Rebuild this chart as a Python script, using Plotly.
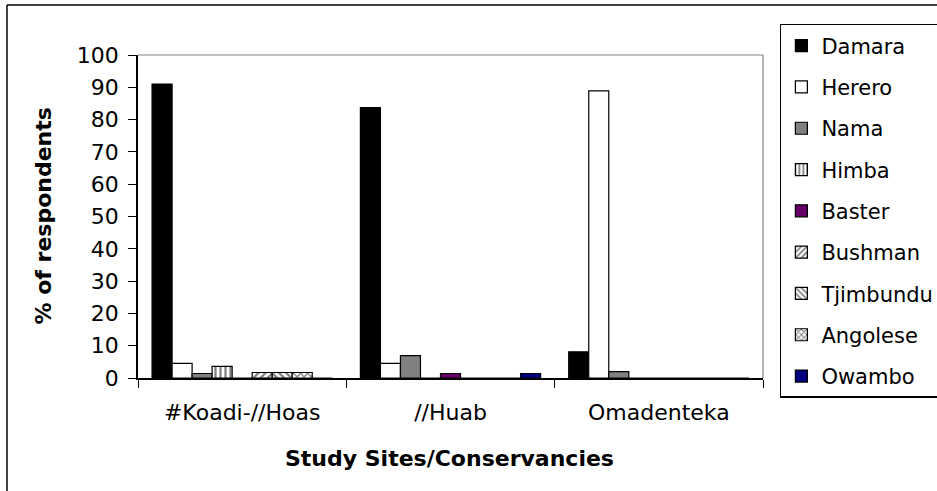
import plotly.graph_objects as go

# Study sites (x categories)
sites = ["#Koadi-//Hoas", "//Huab", "Omadenteka"]

# Ethnic group of respondents, % per site
groups = ["Damara", "Herero", "Nama", "Himba", "Baster",
          "Bushman", "Tjimbundu", "Angolese", "Owambo"]
damara = [91.0, 83.7, 8.1]
herero = [4.5, 4.5, 88.9]
nama = [1.4, 6.9, 2.0]
himba = [3.6, 0, 0]
baster = [0, 1.4, 0]
bushman = [1.7, 0, 0]
tjimbundu = [1.7, 0, 0]
angolese = [1.7, 0, 0]
owambo = [0, 1.4, 0]

y_ticks = list(range(0, 101, 10))

values = [damara, herero, nama, himba, baster, bushman, tjimbundu, angolese, owambo]

# fill colour, pattern shape for each ethnic group
styles = [
    dict(color="#000000", shape=""),
    dict(color="#ffffff", shape=""),
    dict(color="#808080", shape=""),
    dict(color="#ffffff", shape="|"),
    dict(color="#660066", shape=""),
    dict(color="#ffffff", shape="/"),
    dict(color="#ffffff", shape="\\"),
    dict(color="#ffffff", shape="x"),
    dict(color="#000080", shape=""),
]

FONT = "DejaVu Sans"

fig = go.Figure()
for name, vals, st in zip(groups, values, styles):
    marker = dict(color=st["color"], line=dict(color="#000000", width=1.2))
    if st["shape"]:
        marker["pattern"] = dict(shape=st["shape"], fgcolor="#000000",
                                 bgcolor="#ffffff", size=5, solidity=0.45,
                                 fillmode="overlay")
    fig.add_trace(go.Bar(name=name, x=sites, y=vals, marker=marker,
                         legendgroup=name))

fig.update_layout(
    width=937, height=491,
    margin=dict(l=138, r=174, t=55, b=113, autoexpand=False),
    paper_bgcolor="#ffffff", plot_bgcolor="#ffffff",
    barmode="group", bargap=0.135, bargroupgap=0,
    font=dict(family=FONT, size=22, color="#000000"),
    showlegend=True,
    legend=dict(x=1.027, y=1.096, xanchor="left", yanchor="top",
                bordercolor="#000000", borderwidth=1.5, bgcolor="#ffffff",
                font=dict(family=FONT, size=21, color="#000000"),
                tracegroupgap=11, traceorder="grouped", maxheight=420,
                itemwidth=30),
    xaxis=dict(type="category", categoryorder="array", categoryarray=sites,
               showline=True, linecolor="#000000", linewidth=2,
               ticks="outside", tickson="boundaries", ticklen=8,
               tickcolor="#000000", tickwidth=1.2, showgrid=False,
               ticklabelstandoff=14,
               tickfont=dict(family=FONT, size=22, color="#000000")),
    yaxis=dict(range=[0, 100], tickvals=y_ticks, showline=True,
               linecolor="#000000", linewidth=1.5, ticks="outside",
               ticklen=8, tickcolor="#000000", tickwidth=1.2,
               showgrid=False, zeroline=False, ticklabelstandoff=5,
               tickfont=dict(family=FONT, size=22, color="#000000")),
    annotations=[
        dict(text="<b>% of respondents</b>", xref="paper", yref="paper",
             x=-0.152, y=0.5, textangle=-90, showarrow=False,
             font=dict(family=FONT, size=22, color="#000000"),
             xanchor="center", yanchor="middle"),
        dict(text="<b>Study Sites/Conservancies</b>", xref="paper",
             yref="paper", x=0.499, y=-0.248, showarrow=False,
             font=dict(family=FONT, size=22, color="#000000"),
             xanchor="center", yanchor="middle"),
    ],
    shapes=[
        # plot-area frame, top and right
        dict(type="line", xref="paper", yref="paper", x0=0, x1=1, y0=1, y1=1,
             line=dict(color="#808080", width=1.2)),
        dict(type="line", xref="paper", yref="paper", x0=1, x1=1, y0=0, y1=1,
             line=dict(color="#808080", width=1.2)),
        # chart-area frame
        dict(type="line", xref="paper", yref="paper", x0=-0.2096, x1=1.4,
             y0=1.1548, y1=1.1548, line=dict(color="#000000", width=1.5)),
        dict(type="line", xref="paper", yref="paper", x0=-0.2096, x1=-0.2096,
             y0=-0.5, y1=1.1548, line=dict(color="#000000", width=1.5)),
    ],
)

fig.write_html("out.html")
